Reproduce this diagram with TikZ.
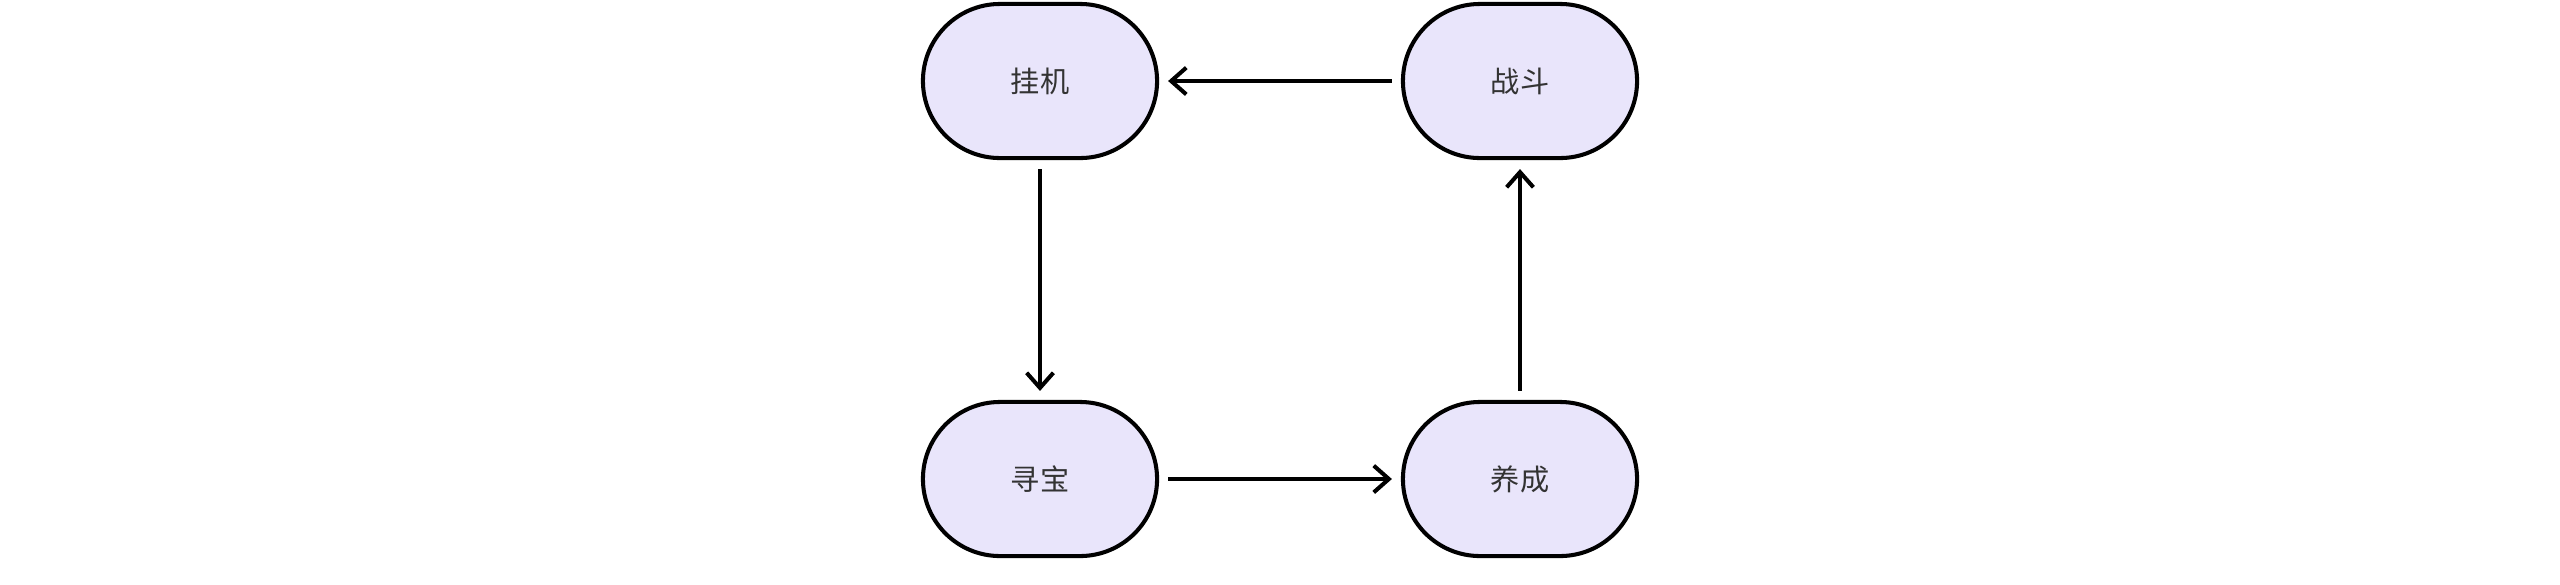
\documentclass[tikz,border=0pt]{standalone}
\usepackage{fontspec}
\newfontfamily\cjk{Noto Sans CJK SC}
\usetikzlibrary{arrows.meta}
\definecolor{nodefill}{HTML}{E9E5FB}
\definecolor{txt}{HTML}{333333}
\tikzset{
  statebox/.style={draw=black, fill=nodefill, line width=1.15pt, rounded corners=0.77cm,
    minimum width=2.34cm, minimum height=1.54cm, inner sep=0pt,
    font=\cjk\fontsize{8.3pt}{10pt}\selectfont, text=txt},
  flow/.style={line width=1.15pt, -{Straight Barb[length=4.3pt,width=7.6pt,line width=1.15pt]},
    shorten >=0.09cm, shorten <=0.09cm}
}
\begin{document}
\begin{tikzpicture}[x=0.01cm,y=-0.01cm]
\useasboundingbox (0,0) rectangle (2560,584);
\node[statebox] (guaji) at (1040,81) {挂机};
\node[statebox] (zhandou) at (1520,81) {战斗};
\node[statebox] (xunbao) at (1040,479) {寻宝};
\node[statebox] (yangcheng) at (1520,479) {养成};
\draw[flow] (zhandou) -- (guaji);
\draw[flow] (guaji) -- (xunbao);
\draw[flow] (xunbao) -- (yangcheng);
\draw[flow] (yangcheng) -- (zhandou);
\end{tikzpicture}
\end{document}
